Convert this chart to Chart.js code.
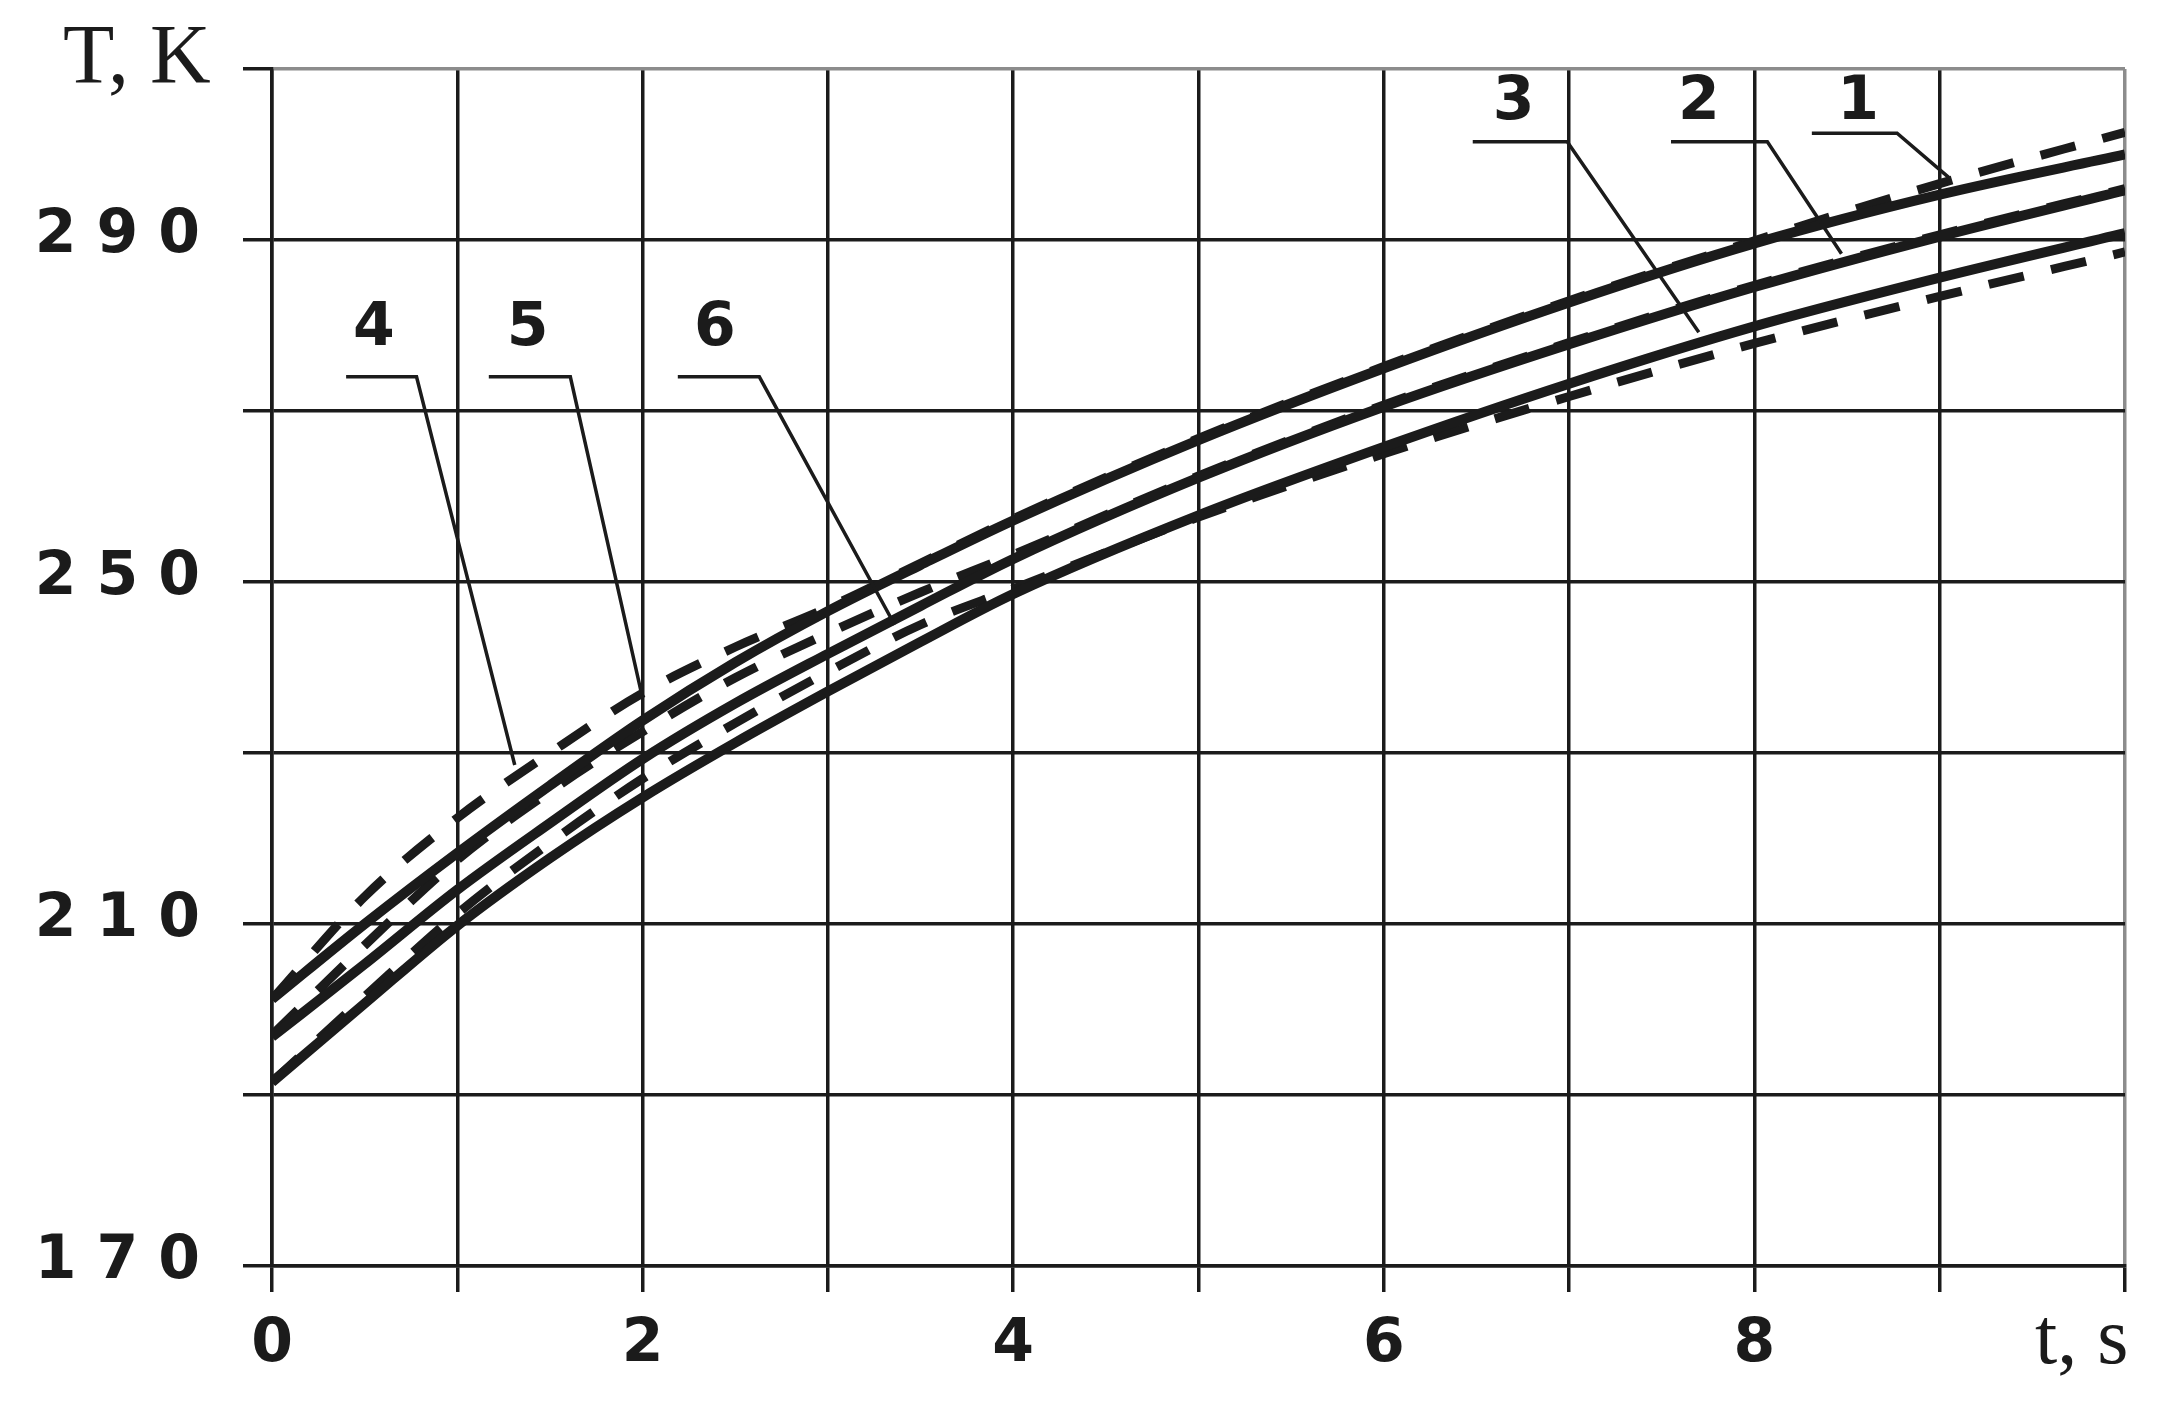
<!DOCTYPE html>
<html>
<head>
<meta charset="utf-8">
<title>T(t)</title>
<script src="https://cdn.jsdelivr.net/npm/chart.js@4.4.1/dist/chart.umd.min.js"></script>
<style>
  html, body { margin: 0; padding: 0; background: #fff; }
  #wrap { width: 2157px; height: 1404px; }
</style>
</head>
<body>
<div id="wrap"><canvas id="myChart" width="2157" height="1404"></canvas></div>
<script>
// time, s
const times = [0, 0.5, 1, 1.5, 2, 2.5, 3, 3.5, 4, 5, 6, 7, 8, 9, 10];

// temperature, K (solid curves 1-3, dashed curves 4-6)
const curve1 = [201.2, 210.0, 218.3, 226.2, 233.8, 240.6, 246.6, 252.0, 257.2, 266.6, 275.0, 282.7, 289.6, 295.3, 300.0];
const curve2 = [196.8, 205.3, 214.0, 221.8, 229.3, 235.8, 241.6, 247.2, 252.7, 262.2, 270.5, 277.8, 284.5, 290.4, 295.8];
const curve3 = [191.5, 200.7, 209.8, 217.7, 224.8, 231.2, 237.2, 243.0, 248.6, 257.8, 265.8, 273.2, 279.9, 285.6, 290.8];
const curve4 = [201.2, 213.2, 222.4, 230.0, 237.0, 242.4, 247.0, 252.2, 257.4, 266.8, 275.2, 282.9, 289.9, 296.6, 302.6];
const curve5 = [197.0, 207.5, 217.5, 225.5, 232.5, 238.8, 244.0, 248.8, 253.2, 262.4, 270.7, 278.0, 284.7, 290.6, 296.0];
const curve6 = [191.5, 201.5, 211.2, 219.5, 227.0, 233.5, 239.5, 245.0, 249.2, 257.6, 265.0, 271.7, 277.9, 283.4, 288.6];

const yTickLabels = [170, 210, 250, 290];
const xTickLabels = [0, 2, 4, 6, 8];

// curve numbers with their leader lines, in data units (t, T)
const curveLabels = [
    { text: "1", at: [8.56, 306.0], leader: [[8.31, 302.5], [8.77, 302.5], [9.05, 297.3]] },
    { text: "2", at: [7.70, 306.0], leader: [[7.55, 301.5], [8.07, 301.5], [8.47, 288.4]] },
    { text: "3", at: [6.70, 306.0], leader: [[6.48, 301.5], [6.99, 301.5], [7.70, 279.2]] },
    { text: "4", at: [0.55, 279.5], leader: [[0.40, 274.0], [0.78, 274.0], [1.31, 228.6]] },
    { text: "5", at: [1.38, 279.5], leader: [[1.17, 274.0], [1.61, 274.0], [2.00, 236.4]] },
    { text: "6", at: [2.39, 279.5], leader: [[2.19, 274.0], [2.63, 274.0], [3.36, 245.0]] }
];

const INK = "#1b1b1b";
const tickFont = { family: "DejaVu Sans", size: 60, weight: "bold" };

function points(values) {
    return times.map((t, i) => ({ x: t, y: values[i] }));
}

function solid(values) {
    return {
        data: points(values),
        borderColor: INK,
        borderWidth: 10,
        pointRadius: 0,
        fill: false,
        cubicInterpolationMode: "monotone"
    };
}

function dashed(values) {
    return {
        data: points(values),
        borderColor: INK,
        borderWidth: 9,
        borderDash: [36, 28],
        pointRadius: 0,
        fill: false,
        cubicInterpolationMode: "monotone"
    };
}

const decorations = {
    id: "decorations",
    beforeDraw(chart) {
        // wide spacing of the tick digits
        chart.ctx.letterSpacing = "20px";
    },
    afterDatasetsDraw(chart) {
        const { ctx, scales: { x, y } } = chart;
        ctx.save();
        ctx.letterSpacing = "0px";
        ctx.strokeStyle = INK;
        ctx.fillStyle = INK;
        ctx.lineWidth = 3.5;
        curveLabels.forEach(l => {
            ctx.beginPath();
            l.leader.forEach((p, i) => {
                const px = x.getPixelForValue(p[0]);
                const py = y.getPixelForValue(p[1]);
                if (i === 0) ctx.moveTo(px, py); else ctx.lineTo(px, py);
            });
            ctx.stroke();
            ctx.font = "bold 60px 'DejaVu Sans'";
            ctx.textAlign = "center";
            ctx.textBaseline = "middle";
            ctx.fillText(l.text, x.getPixelForValue(l.at[0]), y.getPixelForValue(l.at[1]));
        });
        ctx.restore();
    },
    afterDraw(chart) {
        const { ctx, chartArea } = chart;
        ctx.save();
        ctx.letterSpacing = "0px";
        ctx.fillStyle = INK;
        ctx.textBaseline = "alphabetic";
        ctx.textAlign = "left";
        ctx.font = "84px 'Liberation Serif'";
        ctx.fillText("T, K", chartArea.left - 209, chartArea.top + 14);
        ctx.font = "80px 'Liberation Serif'";
        ctx.fillText("t, s", chartArea.right - 90, chartArea.bottom + 97);
        ctx.restore();
    }
};

new Chart(document.getElementById("myChart").getContext("2d"), {
    type: "line",
    data: {
        datasets: [
            solid(curve1), solid(curve2), solid(curve3),
            dashed(curve4), dashed(curve5), dashed(curve6)
        ]
    },
    options: {
        responsive: false,
        devicePixelRatio: 1,
        animation: false,
        layout: { padding: { top: 69, right: 32, left: 0, bottom: 0 } },
        plugins: {
            legend: { display: false },
            tooltip: { enabled: false }
        },
        scales: {
            x: {
                type: "linear",
                min: 0,
                max: 10,
                afterFit: s => { s.height = 138; },
                border: { color: INK, width: 3.5 },
                grid: {
                    color: c => (c.tick && c.tick.value === 10 ? "#8c8c8c" : INK),
                    lineWidth: 3.5,
                    tickLength: 26,
                    tickColor: INK,
                    tickWidth: 3.5
                },
                ticks: {
                    stepSize: 1,
                    autoSkip: false,
                    maxRotation: 0,
                    padding: 17,
                    labelOffset: 10,
                    color: INK,
                    font: tickFont,
                    callback: v => (xTickLabels.includes(v) ? String(v) : "")
                }
            },
            y: {
                min: 170,
                max: 310,
                afterFit: s => { s.width = 272; },
                border: { color: INK, width: 3.5 },
                grid: {
                    color: c => (c.tick && c.tick.value === 310 ? "#8c8c8c" : INK),
                    lineWidth: 3.5,
                    tickLength: 29,
                    tickColor: INK,
                    tickWidth: 3.5
                },
                ticks: {
                    stepSize: 20,
                    autoSkip: false,
                    padding: 23,
                    labelOffset: -4,
                    color: INK,
                    font: tickFont,
                    callback: v => (yTickLabels.includes(v) ? String(v) : "")
                }
            }
        }
    },
    plugins: [decorations]
});
</script>
</body>
</html>
